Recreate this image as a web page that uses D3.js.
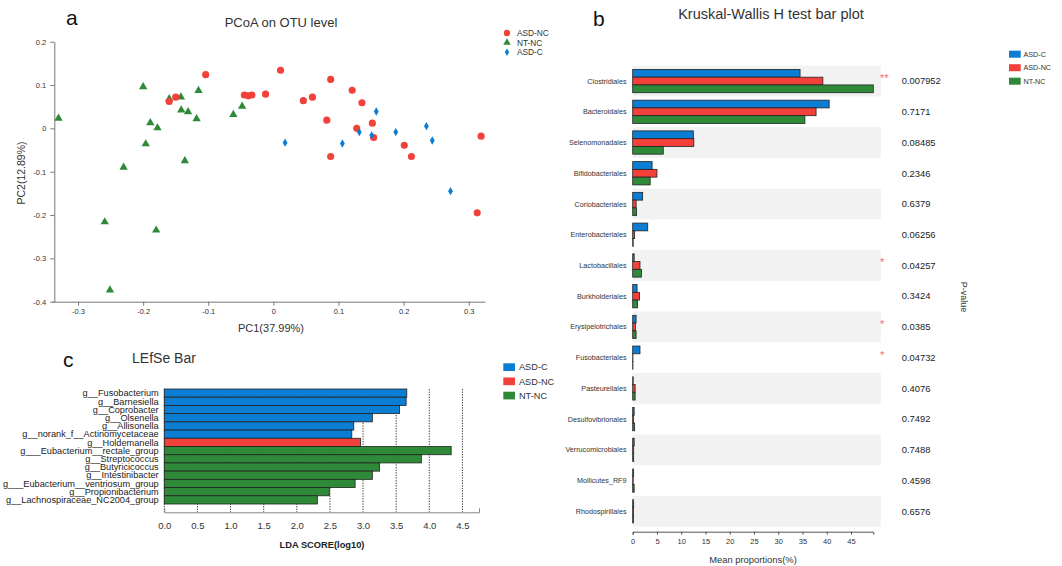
<!DOCTYPE html>
<html>
<head>
<meta charset="utf-8">
<script src="https://cdn.jsdelivr.net/npm/d3@7"></script>
<style>
  body { margin: 0; background: #fff; }
  svg { display: block; font-family: "Liberation Sans", Arial, sans-serif; }
</style>
</head>
<body>
<div id="chart"></div>
<script>
// ---- Panel a: PCoA coordinates [PC1, PC2] ----
const asdNcPoints = [
    [-0.160, 0.062], [-0.150, 0.072], [-0.104, 0.124], [-0.0446, 0.077], [-0.0385, 0.075],
    [-0.033, 0.077], [-0.012, 0.079], [0.011, 0.134], [0.046, 0.064], [0.060, 0.072],
    [0.082, 0.019], [0.088, 0.113], [0.088, -0.065], [0.121, 0.088], [0.128, 0.000],
    [0.136, 0.059], [0.152, 0.012], [0.154, -0.021], [0.201, -0.039], [0.212, -0.065],
    [0.319, -0.018], [0.313, -0.195]
];
const ntNcPoints = [
    [-0.330, 0.023], [-0.200, 0.096], [-0.189, 0.013], [-0.178, 0.001], [-0.196, -0.036],
    [-0.230, -0.090], [-0.259, -0.216], [-0.180, -0.235], [-0.251, -0.373], [-0.160, 0.068],
    [-0.142, 0.072], [-0.1415, 0.042], [-0.131, 0.038], [-0.115, 0.087], [-0.136, -0.075],
    [-0.118, 0.022], [-0.0615, 0.032], [-0.048, 0.051]
];
const asdCPoints = [
    [0.018, -0.033], [0.106, -0.035], [0.132, -0.0085], [0.158, 0.039], [0.151, -0.016],
    [0.188, -0.0085], [0.235, 0.005], [0.244, -0.028], [0.272, -0.145]
];
const pcoaXTicks = [-0.3, -0.2, -0.1, 0, 0.1, 0.2, 0.3];
const pcoaYTicks = [0.2, 0.1, 0, -0.1, -0.2, -0.3, -0.4];

// ---- Panel b: Kruskal-Wallis mean proportions (%) ----
const kwOrders = ["Clostridiales", "Bacteroidales", "Selenomonadales", "Bifidobacteriales",
    "Coriobacteriales", "Enterobacteriales", "Lactobacillales", "Burkholderiales",
    "Erysipelotrichales", "Fusobacteriales", "Pasteurellales", "Desulfovibrionales",
    "Verrucomicrobiales", "Mollicutes_RF9", "Rhodospirillales"];
const kwAsdC  = [34.5, 40.5, 12.5, 4.0, 2.05, 3.1, 0.3, 0.9, 0.7, 1.5, 0.1, 0.3, 0.3, 0.2, 0.2];
const kwAsdNc = [39.2, 37.8, 12.6, 5.0, 0.7, 0.4, 1.5, 1.4, 0.55, 0.05, 0.5, 0.15, 0.2, 0.1, 0.15];
const kwNtNc  = [49.6, 35.5, 6.3, 3.6, 0.8, 0.1, 1.8, 1.0, 0.7, 0.05, 0.5, 0.4, 0.2, 0.3, 0.15];
const kwPValues = ["0.007952", "0.7171", "0.08485", "0.2346", "0.6379", "0.06256", "0.04257",
    "0.3424", "0.0385", "0.04732", "0.4076", "0.7492", "0.7488", "0.4598", "0.6576"];
const kwStars = ["**", "", "", "", "", "", "*", "", "*", "*", "", "", "", "", ""];
const kwTicks = [0, 5, 10, 15, 20, 25, 30, 35, 40, 45];

// ---- Panel c: LEfSe LDA scores ----
const lefseGenera = ["g__Fusobacterium", "g__Barnesiella", "g__Coprobacter", "g__Olsenella",
    "g__Allisonella", "g__norank_f__Actinomycetaceae", "g__Holdemanella",
    "g___Eubacterium__rectale_group", "g__Streptococcus", "g__Butyricicoccus",
    "g__Intestinibacter", "g___Eubacterium__ventriosum_group", "g__Propionibacterium",
    "g__Lachnospiraceae_NC2004_group"];
const lefseScores = [3.66, 3.65, 3.55, 3.14, 2.86, 2.83, 2.96, 4.33, 3.88, 3.25, 3.14, 2.88, 2.49, 2.31];
const lefseGroups = ["ASD-C", "ASD-C", "ASD-C", "ASD-C", "ASD-C", "ASD-C", "ASD-NC",
    "NT-NC", "NT-NC", "NT-NC", "NT-NC", "NT-NC", "NT-NC", "NT-NC"];
const lefseTicks = [0, 0.5, 1.0, 1.5, 2.0, 2.5, 3.0, 3.5, 4.0, 4.5];

const groupNames = ["ASD-C", "ASD-NC", "NT-NC"];
const groupColors = ["#0b7dd3", "#f2403a", "#2e8a38"];
const color = d3.scaleOrdinal().domain(groupNames).range(groupColors);

const svg = d3.select("#chart").append("svg")
    .attr("width", 1062)
    .attr("height", 566);

// small helper to restyle d3 axes
function styleAxis(g, fontSize, stroke) {
    g.attr("font-family", null).attr("font-size", null);
    g.selectAll("path, line").attr("stroke", stroke);
    g.selectAll("text").attr("fill", "#333").style("font-size", fontSize + "px");
}

function panelLetter(x, y, letter) {
    svg.append("text")
        .attr("x", x).attr("y", y)
        .style("font-size", "21px")
        .attr("fill", "#111")
        .text(letter);
}

/* ================= Panel a ================= */
const xA = d3.scaleLinear().domain([-0.34, 0.325]).range([52, 485]);
const yA = d3.scaleLinear().domain([-0.4, 0.2]).range([301.7, 41.7]);
const gA = svg.append("g").classed("panel-a", true);

panelLetter(66, 25, "a");
gA.append("text")
    .attr("x", 281).attr("y", 27)
    .attr("text-anchor", "middle")
    .style("font-size", "13px")
    .attr("fill", "#333")
    .text("PCoA on OTU level");

gA.append("g")
    .attr("transform", "translate(0,301.7)")
    .call(d3.axisBottom(xA).tickValues(pcoaXTicks).tickFormat(d => String(d)).tickSize(4).tickSizeOuter(0).tickPadding(3))
    .call(g => styleAxis(g, 7.5, "#777"));

gA.append("g")
    .attr("transform", "translate(54.3,0)")
    .call(d3.axisLeft(yA).tickValues(pcoaYTicks).tickFormat(d => String(d)).tickSize(4).tickSizeOuter(0).tickPadding(4))
    .call(g => styleAxis(g, 7.5, "#777"));

gA.append("text")
    .attr("x", 271).attr("y", 332)
    .attr("text-anchor", "middle")
    .style("font-size", "11px")
    .attr("fill", "#333")
    .text("PC1(37.99%)");

gA.append("text")
    .attr("transform", "translate(25,173) rotate(-90)")
    .attr("text-anchor", "middle")
    .style("font-size", "10.5px")
    .attr("fill", "#333")
    .text("PC2(12.89%)");

const pcoaSets = [
    { name: "NT-NC", pts: ntNcPoints, shape: d3.symbolTriangle, size: 30 },
    { name: "ASD-NC", pts: asdNcPoints, shape: d3.symbolCircle, size: 40 },
    { name: "ASD-C", pts: asdCPoints, shape: d3.symbolDiamond, size: 20 }
];

pcoaSets.forEach(function(s) {
    gA.append("g")
        .selectAll("path")
        .data(s.pts)
        .join("path")
        .attr("transform", d => "translate(" + xA(d[0]) + "," + yA(d[1]) + ")")
        .attr("d", d3.symbol().type(s.shape).size(s.size))
        .attr("fill", color(s.name));
});

// legend a (order as in the original: ASD-NC, NT-NC, ASD-C)
const legendA = gA.append("g").attr("transform", "translate(507,33)")
    .selectAll("g")
    .data([pcoaSets[1], pcoaSets[0], pcoaSets[2]])
    .join("g")
    .attr("transform", (d, i) => "translate(0," + i * 9.6 + ")");
legendA.append("path")
    .attr("d", d => d3.symbol().type(d.shape).size(d.size * 0.8)())
    .attr("fill", d => color(d.name));
legendA.append("text")
    .attr("x", 10).attr("dy", "0.35em")
    .style("font-size", "8.3px")
    .attr("fill", "#333")
    .text(d => d.name);

/* ================= Panel b ================= */
const gB = svg.append("g").classed("panel-b", true);
const xB = d3.scaleLinear().domain([0, 49.6]).range([632.7, 873.3]);
const yB = d3.scaleBand().domain(kwOrders).range([65.7, 526.7]);
const subB = d3.scaleBand().domain(groupNames).range([0, yB.bandwidth()]).paddingOuter(0.48);
const kwSeries = [kwAsdC, kwAsdNc, kwNtNc];

panelLetter(593, 26, "b");
gB.append("text")
    .attr("x", 771).attr("y", 19)
    .attr("text-anchor", "middle")
    .style("font-size", "14.5px")
    .attr("fill", "#333")
    .text("Kruskal-Wallis H test bar plot");

// alternating row bands
gB.append("g")
    .selectAll("rect")
    .data(kwOrders.filter((d, i) => i % 2 === 0))
    .join("rect")
    .attr("x", xB(0))
    .attr("y", d => yB(d))
    .attr("width", xB.range()[1] - xB.range()[0] + 7.5)
    .attr("height", yB.bandwidth())
    .attr("fill", "#f2f2f2");

const rowsB = gB.append("g")
    .selectAll("g")
    .data(kwOrders)
    .join("g")
    .attr("transform", d => "translate(0," + yB(d) + ")");

rowsB.selectAll("rect")
    .data((d, i) => groupNames.map((gname, j) => ({ group: gname, value: kwSeries[j][i] })))
    .join("rect")
    .attr("x", xB(0))
    .attr("y", d => subB(d.group))
    .attr("width", d => xB(d.value) - xB(0))
    .attr("height", subB.bandwidth())
    .attr("fill", d => color(d.group))
    .attr("stroke", "#222")
    .attr("stroke-width", 0.8);

rowsB.append("text")
    .attr("x", 626.5)
    .attr("y", yB.bandwidth() / 2)
    .attr("dy", "0.35em")
    .attr("text-anchor", "end")
    .style("font-size", "7.2px")
    .attr("fill", "#333")
    .text(d => d);

rowsB.append("text")
    .attr("x", 901.7)
    .attr("y", yB.bandwidth() / 2)
    .attr("dy", "0.35em")
    .style("font-size", "9.4px")
    .attr("fill", "#222")
    .text((d, i) => kwPValues[i]);

rowsB.append("text")
    .attr("x", 880)
    .attr("y", yB.bandwidth() / 2 + 1)
    .style("font-size", "11px")
    .attr("fill", "#ee6b74")
    .text((d, i) => kwStars[i]);

gB.append("g")
    .attr("transform", "translate(0,531.7)")
    .call(d3.axisBottom(xB).tickValues(kwTicks).tickSize(3).tickSizeOuter(3).tickPadding(4))
    .call(g => styleAxis(g, 7.5, "#555"));

gB.append("text")
    .attr("x", 753).attr("y", 563)
    .attr("text-anchor", "middle")
    .style("font-size", "9.4px")
    .attr("fill", "#333")
    .text("Mean proportions(%)");

gB.append("text")
    .attr("transform", "translate(961,297) rotate(90)")
    .attr("text-anchor", "middle")
    .style("font-size", "9px")
    .attr("fill", "#333")
    .text("P-value");

const legendB = gB.append("g").attr("transform", "translate(1009,50.7)")
    .selectAll("g")
    .data(groupNames)
    .join("g")
    .attr("transform", (d, i) => "translate(0," + i * 13.5 + ")");
legendB.append("rect")
    .attr("width", 11.7).attr("height", 7)
    .attr("fill", d => color(d));
legendB.append("text")
    .attr("x", 14.5).attr("y", 3.5).attr("dy", "0.35em")
    .style("font-size", "7.2px")
    .attr("fill", "#333")
    .text(d => d);

/* ================= Panel c ================= */
const gC = svg.append("g").classed("panel-c", true);
const xC = d3.scaleLinear().domain([0, 4.75]).range([164.3, 479]);
const yC = d3.scaleBand().domain(lefseGenera).range([389, 504]);

panelLetter(63, 367, "c");
gC.append("text")
    .attr("x", 164).attr("y", 363)
    .attr("text-anchor", "middle")
    .style("font-size", "14px")
    .attr("fill", "#333")
    .text("LEfSe Bar");

// dotted grid behind the bars
gC.append("g")
    .selectAll("line")
    .data(lefseTicks)
    .join("line")
    .attr("x1", d => xC(d)).attr("x2", d => xC(d))
    .attr("y1", yC.range()[0]).attr("y2", 512.3)
    .attr("stroke", "#222")
    .attr("stroke-width", 0.9)
    .attr("stroke-dasharray", "1.3,1.3");

gC.append("g")
    .selectAll("rect")
    .data(lefseGenera)
    .join("rect")
    .attr("x", xC(0))
    .attr("y", d => yC(d))
    .attr("width", (d, i) => xC(lefseScores[i]) - xC(0))
    .attr("height", yC.bandwidth())
    .attr("fill", (d, i) => color(lefseGroups[i]))
    .attr("stroke", "#222")
    .attr("stroke-width", 0.8);

gC.append("g")
    .selectAll("text")
    .data(lefseGenera)
    .join("text")
    .attr("x", 158.7)
    .attr("y", d => yC(d) + yC.bandwidth() / 2)
    .attr("dy", "0.35em")
    .attr("text-anchor", "end")
    .style("font-size", "9.2px")
    .attr("fill", "#222")
    .text(d => d);

gC.append("g")
    .attr("transform", "translate(0,512.3)")
    .call(d3.axisBottom(xC).tickValues(lefseTicks).tickFormat(d3.format(".1f")).tickSize(0).tickSizeOuter(-4).tickPadding(10))
    .call(g => styleAxis(g, 9.5, "#888"));

gC.append("text")
    .attr("x", 322).attr("y", 548)
    .attr("text-anchor", "middle")
    .style("font-size", "9.3px")
    .style("font-weight", "bold")
    .attr("fill", "#222")
    .text("LDA SCORE(log10)");

const legendC = gC.append("g").attr("transform", "translate(503.3,363.3)")
    .selectAll("g")
    .data(groupNames)
    .join("g")
    .attr("transform", (d, i) => "translate(0," + i * 14.2 + ")");
legendC.append("rect")
    .attr("width", 11.7).attr("height", 7.7)
    .attr("fill", d => color(d));
legendC.append("text")
    .attr("x", 15.7).attr("y", 3.85).attr("dy", "0.35em")
    .style("font-size", "9.2px")
    .attr("fill", "#333")
    .text(d => d);
</script>
</body>
</html>
